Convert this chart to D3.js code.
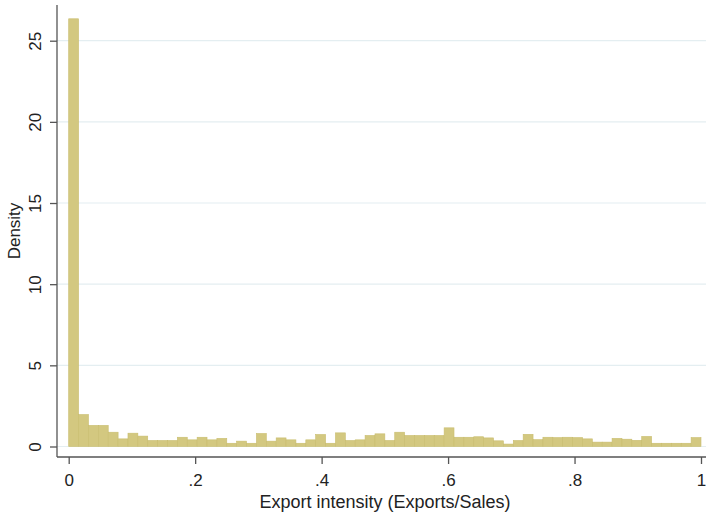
<!DOCTYPE html>
<html>
<head>
<meta charset="utf-8">
<script src="https://cdn.jsdelivr.net/npm/d3@7"></script>
<style>
  html, body { margin: 0; padding: 0; background: #fff; }
  svg { display: block; font-family: "Liberation Sans", Arial, sans-serif; }
</style>
</head>
<body>
<svg id="chart" width="706" height="513"></svg>
<script>
// Histogram of export intensity: 64 equal-width bins on [0, 1]
const binCount = 64;
const densities = [
  26.35, 1.97, 1.30, 1.30, 0.88, 0.47, 0.82, 0.64, 0.37, 0.37,
  0.37, 0.57, 0.41, 0.57, 0.41, 0.50, 0.20, 0.33, 0.20, 0.80,
  0.33, 0.53, 0.41, 0.20, 0.41, 0.74, 0.20, 0.84, 0.37, 0.41,
  0.68, 0.78, 0.37, 0.88, 0.68, 0.68, 0.68, 0.68, 1.15, 0.57,
  0.57, 0.60, 0.53, 0.35, 0.15, 0.37, 0.75, 0.42, 0.57, 0.55,
  0.57, 0.55, 0.47, 0.27, 0.27, 0.50, 0.45, 0.38, 0.62, 0.20,
  0.20, 0.20, 0.20, 0.55
];
const xTicks = [0, 0.2, 0.4, 0.6, 0.8, 1];
const xTickLabels = ["0", ".2", ".4", ".6", ".8", "1"];
const yTicks = [0, 5, 10, 15, 20, 25];
const yTickLabels = ["0", "5", "10", "15", "20", "25"];
const xTitle = "Export intensity (Exports/Sales)";
const yTitle = "Density";

const bins = densities.map((d, i) => ({ x0: i / binCount, x1: (i + 1) / binCount, density: d }));

const svg = d3.select("#chart");
const axisLeftX = 57, axisBottomY = 457, plotTop = 5, plotRight = 706;
const fontSize = 17;

const x = d3.scaleLinear().domain([0, 1]).range([68.7, 701]);
const y = d3.scaleLinear().domain([0, 25]).range([446.5, 40.7]);

// horizontal grid lines
svg.append("g")
  .selectAll("line")
  .data(yTicks)
  .join("line")
  .attr("x1", axisLeftX).attr("x2", plotRight)
  .attr("y1", d => y(d)).attr("y2", d => y(d))
  .attr("stroke", "#e4eef1").attr("stroke-width", 1.2);

// bars
svg.append("g")
  .selectAll("rect")
  .data(bins)
  .join("rect")
  .attr("x", d => x(d.x0))
  .attr("width", d => x(d.x1) - x(d.x0))
  .attr("y", d => y(d.density))
  .attr("height", d => y(0) - y(d.density))
  .attr("fill", "#d3c880")
  .attr("stroke", "#c9bd6e")
  .attr("stroke-width", 0.6);

// y axis
const yAxis = d3.axisLeft(y).tickValues(yTicks)
  .tickFormat((d, i) => yTickLabels[i]).tickSize(7).tickPadding(5);
const gy = svg.append("g").attr("transform", `translate(${axisLeftX},0)`).call(yAxis);
gy.select(".domain").remove();
gy.append("line").attr("x1", 0).attr("x2", 0).attr("y1", plotTop).attr("y2", axisBottomY)
  .attr("stroke", "#555").attr("stroke-width", 1.3);
gy.selectAll(".tick line").attr("stroke", "#555").attr("stroke-width", 1.3);
gy.selectAll(".tick text")
  .attr("font-size", fontSize).attr("fill", "#222")
  .attr("text-anchor", "middle")
  .attr("transform", "rotate(-90)")
  .attr("x", 0).attr("dy", 0)
  .attr("y", -16);

// x axis
const xAxis = d3.axisBottom(x).tickValues(xTicks)
  .tickFormat((d, i) => xTickLabels[i]).tickSize(7).tickPadding(6);
const gx = svg.append("g").attr("transform", `translate(0,${axisBottomY})`).call(xAxis);
gx.select(".domain").remove();
gx.append("line").attr("x1", axisLeftX).attr("x2", plotRight).attr("y1", 0).attr("y2", 0)
  .attr("stroke", "#555").attr("stroke-width", 1.3);
gx.selectAll(".tick line").attr("stroke", "#555").attr("stroke-width", 1.3);
gx.selectAll(".tick text")
  .attr("font-size", fontSize).attr("fill", "#222")
  .attr("dy", 0).attr("y", 29);

// axis titles
svg.append("text")
  .attr("x", 385).attr("y", 508)
  .attr("text-anchor", "middle")
  .attr("font-size", 18).attr("fill", "#222")
  .text(xTitle);
svg.append("text")
  .attr("transform", "translate(20,231) rotate(-90)")
  .attr("text-anchor", "middle")
  .attr("font-size", fontSize).attr("fill", "#222")
  .text(yTitle);
</script>
</body>
</html>
